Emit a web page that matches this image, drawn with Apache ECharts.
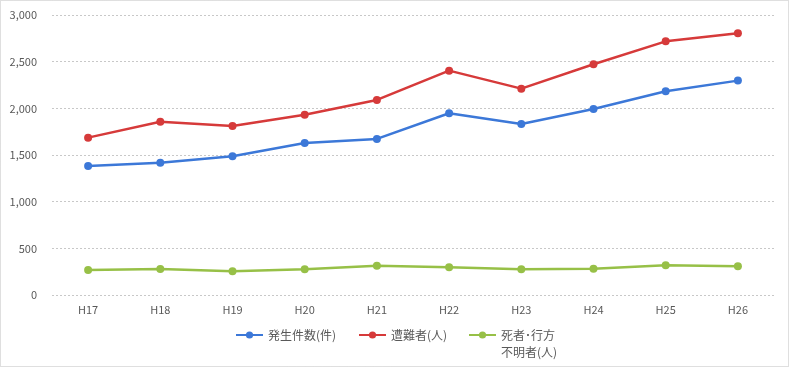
<!DOCTYPE html>
<html><head><meta charset="utf-8">
<script src="https://cdn.jsdelivr.net/npm/echarts@6/dist/echarts.min.js"></script>
<style>html,body{margin:0;padding:0;background:#fff}#c{width:790px;height:368px}</style>
</head><body><div id="c"></div>
<script>
const categories = ['H17','H18','H19','H20','H21','H22','H23','H24','H25','H26'];
const incidents = [1382, 1418, 1486, 1629, 1672, 1947, 1833, 1993, 2183, 2297];
const victims = [1686, 1857, 1811, 1932, 2090, 2404, 2211, 2472, 2718, 2804];
const deadMissing = [268, 279, 254, 275, 314, 297, 275, 282, 318, 307];
const yTicks = [0, 500, 1000, 1500, 2000, 2500, 3000];
const names = ['発生件数(件)', '遭難者(人)', '死者･行方\n不明者(人)'];
const colors = ['#3C78D8', '#D63A3A', '#97C047'];

const font = '"Noto Sans CJK JP", "Noto Sans", sans-serif';
const chart = echarts.init(document.getElementById('c'));
function mkSeries(name, data, color) {
  return {
    name: name, type: 'line', data: data, symbol: 'circle', symbolSize: 8,
    lineStyle: { color: color, width: 2.5 }, itemStyle: { color: color },
    emphasis: { disabled: true }, animation: false
  };
}
function mkLegend(name, left, top, fmt) {
  const l = {
    data: [name], left: left, top: top, itemWidth: 27, itemHeight: 9, itemGap: 6, padding: 0,
    textStyle: { color: '#595959', fontSize: 12, fontFamily: font, lineHeight: 17 }
  };
  if (fmt) l.formatter = fmt;
  return l;
}
chart.setOption({
  animation: false,
  graphic: [{
    type: 'rect', shape: { x: 0.5, y: 0.5, width: 788, height: 366 },
    style: { fill: 'none', stroke: '#BFBFBF', lineWidth: 1, lineDash: [1, 1] }, silent: true
  }],
  grid: { left: 52, right: 16, top: 15, bottom: 73, containLabel: false },
  legend: [
    mkLegend(names[0], 235, 326.5),
    mkLegend(names[1], 358, 326.5),
    mkLegend(names[2], 468, 309.5, n => '\n' + n)
  ],
  xAxis: {
    type: 'category', data: categories, boundaryGap: true,
    axisLine: { show: false }, axisTick: { show: false },
    axisLabel: { color: '#595959', fontSize: 11, fontFamily: font, margin: 9 }
  },
  yAxis: {
    type: 'value', min: yTicks[0], max: yTicks[yTicks.length - 1], interval: 500,
    axisLine: { show: false }, axisTick: { show: false },
    splitLine: { lineStyle: { color: '#C8C8C8', type: [2, 2], width: 1 } },
    axisLabel: { color: '#595959', fontSize: 11, fontFamily: font, margin: 15,
      formatter: v => v.toLocaleString('en-US') }
  },
  series: [
    mkSeries(names[0], incidents, colors[0]),
    mkSeries(names[1], victims, colors[1]),
    mkSeries(names[2], deadMissing, colors[2])
  ]
});
</script></body></html>
